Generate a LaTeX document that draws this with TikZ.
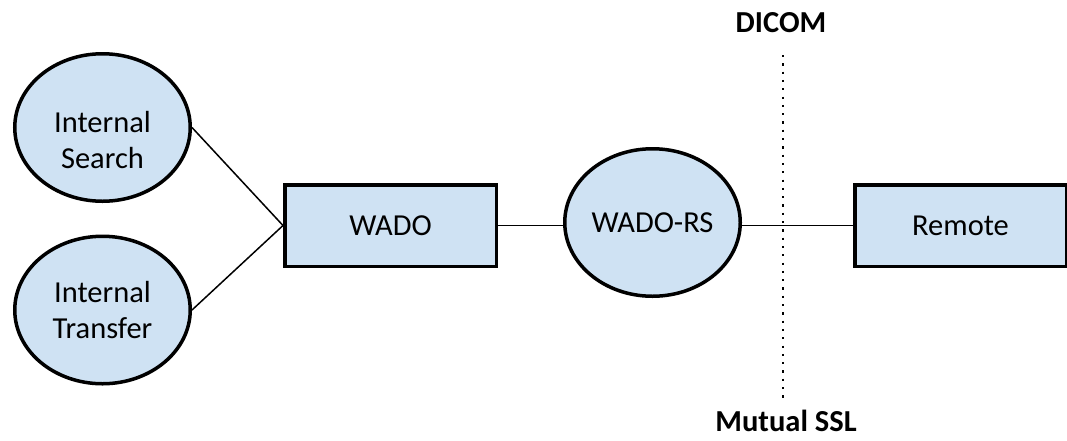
\documentclass[tikz,border=0pt]{standalone}
\usepackage{fontspec}
\setmainfont{Carlito}
\usetikzlibrary{shapes.geometric}
\definecolor{boxfill}{RGB}{207,226,243}
\begin{document}
\begin{tikzpicture}[x=1pt,y=-1pt,
  ell/.style={ellipse,draw=black,line width=3.5pt,fill=boxfill,minimum width=175.5pt,minimum height=147.5pt,inner sep=0pt},
  rbox/.style={rectangle,draw=black,line width=3.5pt,fill=boxfill,minimum width=211.5pt,minimum height=81.5pt,inner sep=0pt},
  txt/.style={font=\fontsize{30.5}{36}\selectfont,align=center,text=black},
  btxt/.style={font=\fontsize{30.5}{36}\selectfont\bfseries,text=black,inner sep=0pt},
  conn/.style={draw=black,line width=1.5pt},
  dots/.style={draw=black,line width=2.2pt,dash pattern=on 2.2pt off 6.1pt}]
\useasboundingbox (0,0) rectangle (1067,440);
\node[ell] (search) at (102.5,127.5) {};
\node[txt] (searchtxt) at (102.5,140) {Internal\\Search};
\node[ell,txt] (transfer) at (102.5,310) {Internal\\Transfer};
\node[rbox,txt] (wado) at (390.5,225.5) {WADO};
\node[ell,txt] (wadors) at (652.5,222.5) {WADO-RS};
\node[rbox,txt] (remote) at (960.5,225.5) {Remote};
\coordinate (dtop) at (783,55);
\coordinate (dbot) at (783,400);
\node[btxt] (dicom) at (781,23) {DICOM};
\node[btxt] (ssl) at (786,421) {Mutual SSL};
\draw[dots] (dtop) -- (dbot);
\draw[conn] (search.east) -- (wado.west);
\draw[conn] (transfer.east) -- (wado.west);
\draw[conn] (wado.east) -- (wado.east -| wadors.west);
\draw[conn] (wado.east -| wadors.east) -- (remote.west);
\end{tikzpicture}
\end{document}
